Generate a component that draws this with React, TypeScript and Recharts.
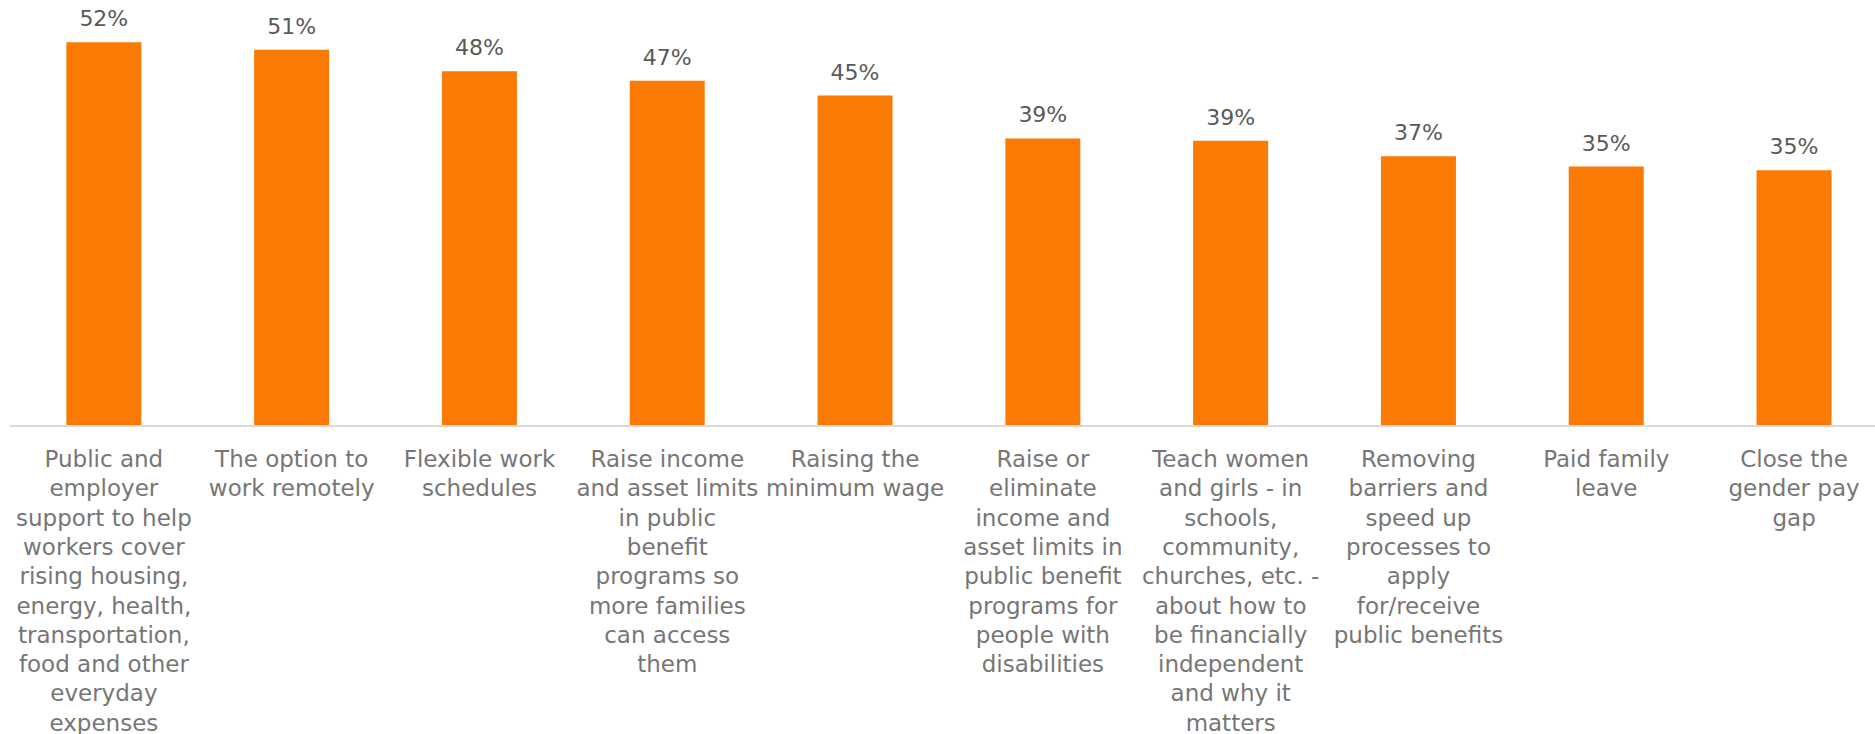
import { Bar, BarChart, LabelList, XAxis, YAxis } from "recharts";

const categories = [
  ["Public and", "employer", "support to help", "workers cover", "rising housing,", "energy, health,", "transportation,", "food and other", "everyday", "expenses"],
  ["The option to", "work remotely"],
  ["Flexible work", "schedules"],
  ["Raise income", "and asset limits", "in public", "benefit", "programs so", "more families", "can access", "them"],
  ["Raising the", "minimum wage"],
  ["Raise or", "eliminate", "income and", "asset limits in", "public benefit", "programs for", "people with", "disabilities"],
  ["Teach women", "and girls - in", "schools,", "community,", "churches, etc. -", "about how to", "be financially", "independent", "and why it", "matters"],
  ["Removing", "barriers and", "speed up", "processes to", "apply", "for/receive", "public benefits"],
  ["Paid family", "leave"],
  ["Close the", "gender pay", "gap"],
];

const values = [51.9, 50.9, 48.0, 46.7, 44.7, 38.9, 38.6, 36.5, 35.1, 34.6];

const data = categories.map((lines, i) => ({ name: lines.join(" "), value: values[i] }));

const font = "'DejaVu Sans', Verdana, sans-serif";

const CategoryTick = (props: any) => {
  const { x, y, index } = props;
  const lines = categories[index] || [];
  return (
    <text x={x} y={y + 41} textAnchor="middle" fill="#767676" fontSize={23} fontFamily={font}>
      {lines.map((line, i) => (
        <tspan key={i} x={x} dy={i === 0 ? 0 : 29.3}>
          {line}
        </tspan>
      ))}
    </text>
  );
};

export default function App() {
  return (
    <div
      style={{
        position: "fixed",
        left: 0,
        top: 0,
        width: 1875,
        height: 734,
        overflow: "hidden",
        background: "#fff",
      }}
    >
      <BarChart
        width={1888}
        height={734}
        data={data}
        margin={{ top: 12, right: 0, bottom: 0, left: 10 }}
        barCategoryGap="30%"
      >
        <YAxis hide domain={[0, 56]} />
        <XAxis
          dataKey="name"
          interval={0}
          height={308}
          tickLine={false}
          tickSize={0}
          tickMargin={0}
          axisLine={{ stroke: "#D9D9D9", strokeWidth: 2 }}
          tick={<CategoryTick />}
        />
        <Bar dataKey="value" fill="#FA7A03" isAnimationActive={false}>
          <LabelList
            dataKey="value"
            position="top"
            offset={16}
            fill="#595959"
            fontSize={22}
            fontFamily={font}
            formatter={(v: any) => `${Math.round(Number(v))}%`}
          />
        </Bar>
      </BarChart>
    </div>
  );
}
